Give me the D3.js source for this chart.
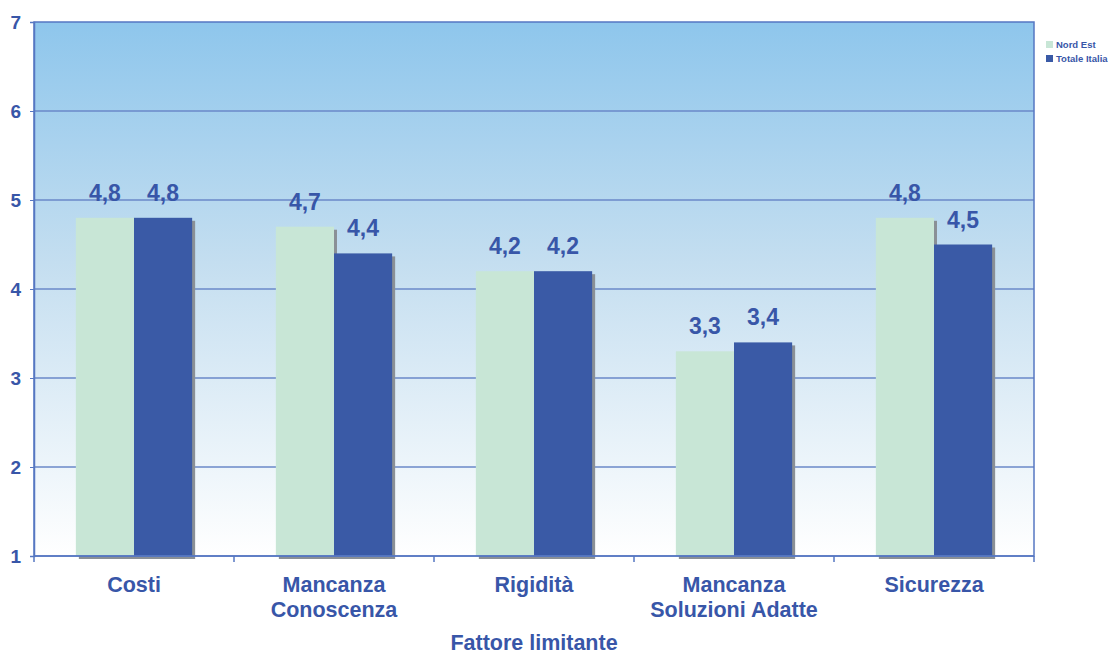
<!DOCTYPE html>
<html>
<head>
<meta charset="utf-8">
<script src="https://cdn.jsdelivr.net/npm/d3@7"></script>
<style>
  html, body { margin: 0; padding: 0; background: #ffffff; }
  svg { display: block; font-family: "Liberation Sans", Arial, sans-serif; }
</style>
</head>
<body>
<svg id="chart" width="1108" height="654"></svg>
<script>
// Fattori limitanti: punteggio medio, Nord Est vs Totale Italia
const categories = [
  ["Costi"],
  ["Mancanza", "Conoscenza"],
  ["Rigidità"],
  ["Mancanza", "Soluzioni Adatte"],
  ["Sicurezza"]
];
const seriesNames = ["Nord Est", "Totale Italia"];
const nordEst = [4.8, 4.7, 4.2, 3.3, 4.8];
const totaleItalia = [4.8, 4.4, 4.2, 3.4, 4.5];
const yTicks = [1, 2, 3, 4, 5, 6, 7];
const axisTitle = "Fattore limitante";

const colors = ["#c8e6d6", "#3a5aa6"];
const textColor = "#3856a8";
const lineColor = "#5677c2";

const margin = { left: 34, right: 74, top: 22, bottom: 98 };
const W = 1108, H = 654;
const plotW = W - margin.left - margin.right;
const plotH = H - margin.top - margin.bottom;

const svg = d3.select("#chart");
const defs = svg.append("defs");
const grad = defs.append("linearGradient")
  .attr("id", "bg").attr("x1", 0).attr("y1", 0).attr("x2", 0).attr("y2", 1);
grad.append("stop").attr("offset", "0%").attr("stop-color", "#8ec6ec");
grad.append("stop").attr("offset", "45%").attr("stop-color", "#c4def0");
grad.append("stop").attr("offset", "100%").attr("stop-color", "#ffffff");

const g = svg.append("g").attr("transform", `translate(${margin.left},${margin.top})`);

const x0 = d3.scaleBand().domain(d3.range(categories.length)).range([0, plotW]).paddingInner(0).paddingOuter(0);
const x1 = d3.scaleBand().domain([0, 1]).range([0, x0.bandwidth()]).paddingInner(0).paddingOuter(0.72);
const y = d3.scaleLinear().domain([1, 7]).range([plotH, 0]);

// plot background
g.append("rect").attr("x", 0).attr("y", 0).attr("width", plotW).attr("height", plotH)
  .attr("fill", "url(#bg)");

// gridlines
g.append("g").selectAll("line").data(yTicks.filter(t => t > 1 && t < 7)).join("line")
  .attr("x1", 0).attr("x2", plotW)
  .attr("y1", d => y(d)).attr("y2", d => y(d))
  .attr("stroke", "#6a88c8").attr("stroke-width", 1.3);

const data = categories.map((c, i) => ({ i, values: [nordEst[i], totaleItalia[i]] }));

const groups = g.append("g").selectAll("g").data(data).join("g")
  .attr("transform", d => `translate(${x0(d.i)},0)`);

// bar shadows
groups.selectAll("rect.shadow").data(d => d.values.map((v, k) => ({ v, k }))).join("rect")
  .attr("class", "shadow")
  .attr("x", d => x1(d.k) + 3)
  .attr("y", d => y(d.v) + 3)
  .attr("width", x1.bandwidth())
  .attr("height", d => y(1) - y(d.v))
  .attr("fill", "#8a9096");

// bars
groups.selectAll("rect.bar").data(d => d.values.map((v, k) => ({ v, k }))).join("rect")
  .attr("class", "bar")
  .attr("x", d => x1(d.k))
  .attr("y", d => y(d.v))
  .attr("width", x1.bandwidth())
  .attr("height", d => y(1) - y(d.v))
  .attr("fill", d => colors[d.k]);

// value labels
const fmt = v => d3.format(".1f")(v).replace(".", ",");
groups.selectAll("text.val").data(d => d.values.map((v, k) => ({ v, k }))).join("text")
  .attr("class", "val")
  .attr("x", d => x1(d.k) + x1.bandwidth() / 2)
  .attr("y", d => y(d.v) - 17)
  .attr("text-anchor", "middle")
  .attr("font-size", 23).attr("font-weight", "bold")
  .attr("fill", textColor)
  .text(d => fmt(d.v));

// frame
g.append("rect").attr("x", 0).attr("y", 0).attr("width", plotW).attr("height", plotH)
  .attr("fill", "none").attr("stroke", lineColor).attr("stroke-width", 1.5);

// y axis
const yAxis = g.append("g").call(d3.axisLeft(y).tickValues(yTicks).tickSize(4).tickFormat(d3.format("d")));
yAxis.select(".domain").attr("stroke", lineColor).attr("stroke-width", 1.5);
yAxis.selectAll(".tick line").attr("stroke", lineColor);
yAxis.selectAll(".tick text")
  .attr("x", -13).attr("dy", "0.35em")
  .attr("font-size", 19).attr("font-weight", "bold")
  .attr("font-family", "Liberation Sans, Arial, sans-serif")
  .attr("fill", textColor);

// x axis with ticks at category boundaries
const xAxisG = g.append("g").attr("transform", `translate(0,${plotH})`);
xAxisG.append("line").attr("x1", 0).attr("x2", plotW).attr("stroke", lineColor).attr("stroke-width", 1.5);
xAxisG.selectAll("line.tk").data(d3.range(categories.length + 1)).join("line")
  .attr("class", "tk")
  .attr("x1", d => d * x0.step()).attr("x2", d => d * x0.step())
  .attr("y1", 0).attr("y2", 6)
  .attr("stroke", lineColor).attr("stroke-width", 1.5);

const catLabels = xAxisG.selectAll("text.cat").data(categories).join("text")
  .attr("class", "cat")
  .attr("x", (d, i) => x0(i) + x0.bandwidth() / 2)
  .attr("y", 36)
  .attr("text-anchor", "middle")
  .attr("font-size", 21.5).attr("font-weight", "bold")
  .attr("fill", textColor);
catLabels.selectAll("tspan").data(d => d).join("tspan")
  .attr("x", function () { return d3.select(this.parentNode).attr("x"); })
  .attr("dy", (d, k) => k === 0 ? 0 : 25)
  .text(d => d);

// axis title
svg.append("text")
  .attr("x", margin.left + plotW / 2)
  .attr("y", 650)
  .attr("text-anchor", "middle")
  .attr("font-size", 21.5).attr("font-weight", "bold")
  .attr("fill", textColor)
  .text(axisTitle);

// legend
const legend = svg.append("g").attr("transform", "translate(1046,41)");
seriesNames.forEach((name, k) => {
  const row = legend.append("g").attr("transform", `translate(0,${k * 14})`);
  row.append("rect").attr("width", 7).attr("height", 7).attr("fill", colors[k]);
  row.append("text").attr("x", 10).attr("y", 7)
    .attr("font-size", 9.5).attr("font-weight", "bold")
    .attr("fill", textColor).text(name);
});
</script>
</body>
</html>
